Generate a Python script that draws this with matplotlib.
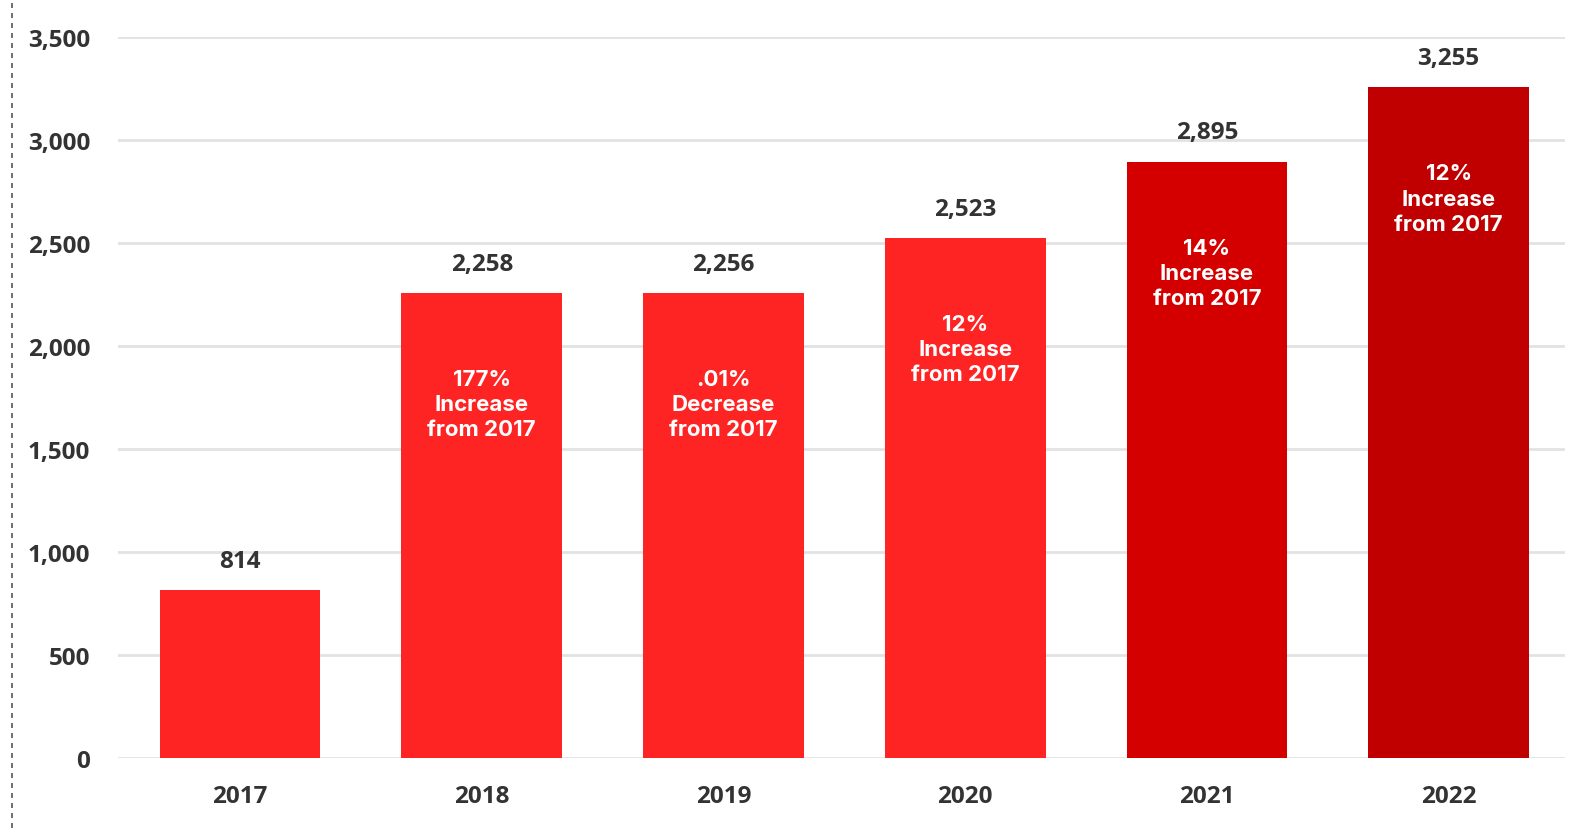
import matplotlib
matplotlib.use("Agg")
import matplotlib.pyplot as plt
from matplotlib.lines import Line2D

years = ["2017", "2018", "2019", "2020", "2021", "2022"]
counts = [814, 2258, 2256, 2523, 2895, 3255]
bar_colors = ["#ff2424", "#ff2424", "#ff2424", "#ff2424", "#d40000", "#c00000"]
inner_notes = ["", "177%\nIncrease\nfrom 2017", ".01%\nDecrease\nfrom 2017",
               "12%\nIncrease\nfrom 2017", "14%\nIncrease\nfrom 2017",
               "12%\nIncrease\nfrom 2017"]
y_ticks = [0, 500, 1000, 1500, 2000, 2500, 3000, 3500]

fig = plt.figure(figsize=(15.82, 8.29), dpi=100)
ax = fig.add_axes([0.0746, 0.0844, 0.9144, 0.8698])

x = range(len(years))
bars = ax.bar(x, counts, width=0.665, color=bar_colors, zorder=3)

ax.set_xlim(-0.505, 5.48)
ax.set_ylim(0, 3500)
ax.set_yticks(y_ticks)
ax.set_yticklabels([f"{v:,}" for v in y_ticks])
ax.set_xticks(list(x))
ax.set_xticklabels(years)
ax.grid(axis="y", color="#e2e2e2", linewidth=2, zorder=0)
ax.set_axisbelow(True)
for s in ax.spines.values():
    s.set_visible(False)
ax.tick_params(axis="both", length=0, labelsize=17.5, labelcolor="#333333")
ax.tick_params(axis="y", pad=20)
ax.tick_params(axis="x", pad=19)
for lab in ax.get_xticklabels() + ax.get_yticklabels():
    lab.set_fontweight("bold")
    lab.set_family("Open Sans")

# value on top of each bar
for xi, v in zip(x, counts):
    ax.annotate(f"{v:,}", (xi, v), xytext=(0, 21), textcoords="offset points",
                ha="center", va="center", fontsize=17.5, fontweight="bold",
                color="#333333", family="Open Sans")

# notes inside the bars
for xi, v, note in zip(x, counts, inner_notes):
    if note:
        ax.annotate(note, (xi, v), xytext=(0, -80), textcoords="offset points",
                    ha="center", va="center", fontsize=16, fontweight="bold",
                    color="white", family="Inter", linespacing=1.32)

fig.add_artist(Line2D([0.0076, 0.0076], [0.0, 1.0], transform=fig.transFigure,
                      color="#555555", linestyle=(0, (3, 3)), linewidth=1.2))

fig.savefig("out.png", dpi=100, facecolor="white")
